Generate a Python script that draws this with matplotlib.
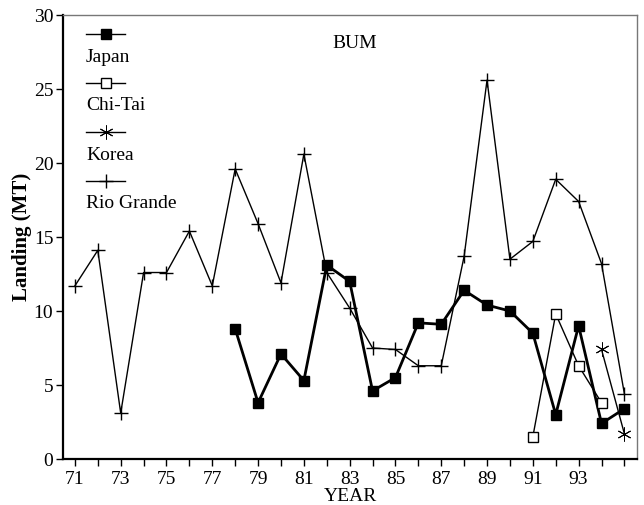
import matplotlib
matplotlib.use("Agg")
from matplotlib import pyplot as plt

years = list(range(71, 96))

rio_years = list(range(71, 96))
rio = [11.7, 14.1, 3.1, 12.6, 12.6, 15.4, 11.7, 19.6, 15.9, 11.9, 20.6, 12.6, 10.2,
       7.5, 7.4, 6.3, 6.3, 13.7, 25.6, 13.5, 14.7, 18.9, 17.4, 13.2, 4.4]

japan_years = list(range(78, 96))
japan = [8.8, 3.8, 7.1, 5.3, 13.1, 12.0, 4.6, 5.5, 9.2, 9.1, 11.4, 10.4, 10.0,
         8.5, 3.0, 9.0, 2.4, 3.4]

chitai_years = [91, 92, 93, 94]
chitai = [1.5, 9.8, 6.3, 3.8]

korea_years = [94, 95]
korea = [7.4, 1.7]

xtick_labels = [str(y) if y % 2 == 1 and y < 95 else "" for y in years]

plt.rcParams['font.family'] = ['Liberation Serif', 'DejaVu Serif']

fig = plt.figure(figsize=(6.44, 5.05), dpi=100)
ax = fig.add_axes([63 / 644, 46 / 505, 574 / 644, 444 / 505])

# (label, x, y, marker, size, face, lw, marker edge width)
series = [
    ("Japan", japan_years, japan, "s", 7, "black", 2.0, 1.0),
    ("Chi-Tai", chitai_years, chitai, "s", 7, "white", 1.0, 1.0),
    ("Korea", korea_years, korea, (6, 2, 0), 10, "black", 1.0, 0.7),
    ("Rio Grande", rio_years, rio, "+", 10, "black", 1.0, 1.0),
]

for label, xs, ys, mk, ms, fc, lw, mew in series:
    ax.plot(xs, ys, color="black", linewidth=lw, marker=mk, markersize=ms,
            markerfacecolor=fc, markeredgecolor="black", markeredgewidth=mew,
            zorder=2 if label == "Rio Grande" else 3)

# hand-made legend: sample line above, label below
for i, (label, xs, ys, mk, ms, fc, lw, mew) in enumerate(series):
    ymark = 1 - (34 - 15 + i * 49) / 444
    ylab = 1 - (57 - 15 + i * 49) / 444
    ax.plot([(86 - 63) / 574, (125 - 63) / 574], [ymark, ymark],
            transform=ax.transAxes, color="black", linewidth=1.0)
    ax.plot([(105.5 - 63) / 574], [ymark], transform=ax.transAxes,
            marker=mk, markersize=ms, markerfacecolor=fc, markeredgewidth=mew,
            markeredgecolor="black", color="black")
    ax.text((86 - 63) / 574, ylab, label, transform=ax.transAxes,
            fontsize=14, va="center", ha="left")

ax.text((355 - 63) / 574, 1 - (43 - 15) / 444, "BUM", transform=ax.transAxes,
        fontsize=14, ha="center", va="center")

ax.set_xlim(70.48, 95.55)
ax.set_ylim(0, 30)
ax.set_xticks(years)
ax.set_xticklabels(xtick_labels)
ax.set_yticks([0, 5, 10, 15, 20, 25, 30])
ax.tick_params(axis="both", direction="out", length=5, width=1, labelsize=14,
               color="black")
ax.tick_params(axis="y", pad=2)

ax.set_xlabel("YEAR", fontsize=14, labelpad=0)
ax.set_ylabel("Landing (MT)", fontsize=15, fontweight="bold", labelpad=1)

for side in ["left", "bottom"]:
    ax.spines[side].set_linewidth(1.6)
for side in ["top", "right"]:
    ax.spines[side].set_linewidth(1.0)
    ax.spines[side].set_color("#777777")

fig.savefig("out.png", dpi=100)
